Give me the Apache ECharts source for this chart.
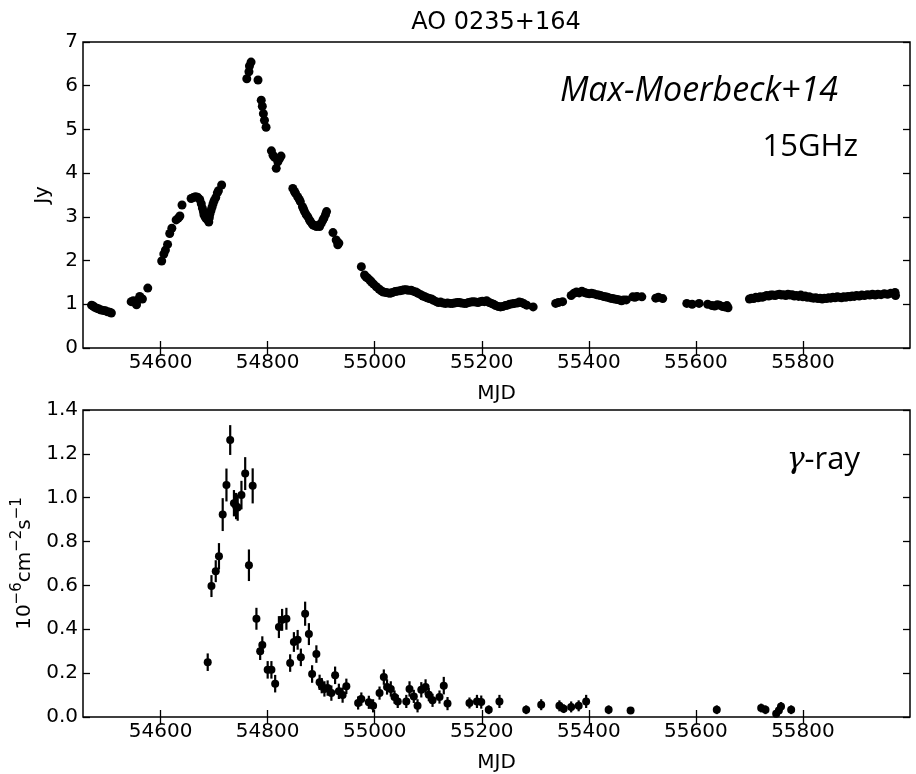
<!DOCTYPE html>
<html>
<head>
<meta charset="utf-8">
<script src="https://cdn.jsdelivr.net/npm/echarts@6/dist/echarts.min.js"></script>
<style>
html,body{margin:0;padding:0;background:#fff;}
#chart{width:916px;height:774px;}
</style>
</head>
<body>
<div id="chart"></div>
<script>
// ---------- data ----------
const titleText = 'AO 0235+164';
const xTickValues = [54600, 54800, 55000, 55200, 55400, 55600, 55800];
const radioTicks = [0, 1, 2, 3, 4, 5, 6, 7];
const gammaTicks = [0.0, 0.2, 0.4, 0.6, 0.8, 1.0, 1.2, 1.4];

// 15 GHz radio light curve (MJD, Jy)
const radioMJD = [
  54471,54474,54477,54481,54485,54489,54493,54497,54501,54505,54508,
  54545,54549,54552,54555,54558,54561,54564,54566,54576,
  54602,54606,54609,54613,54617,54621,54629,54633,54636,54640,
  54657,54661,54665,54669,54673,54676,54678,54680,54681,54683,54685,54687,54688,54690,54691,54692,54694,54696,54698,54700,54703,54706,54708,54714,
  54761,54765,54766,54769,54782,54788,54790,54792,54794,54797,54807,54810,54813,54816,54819,54822,54825,
  54847,54850,54852,54856,54859,54861,54865,54867,54869,54872,54875,54878,54880,54883,54885,54888,54891,54894,54897,54900,54903,54905,54908,54910,54922,54928,54931,54933,
  54975,54981,54984,54987,54991,54994,54998,55003,55008,55012,55016,55021,55025,55029,55033,55038,55042,55047,55051,55055,55059,55063,55068,55072,55077,55081,55086,55090,55094,55098,55102,55106,55110,55115,55119,55123,55128,55132,55136,55141,55145,55149,55154,55158,55162,55167,55171,55175,55180,55184,55188,55193,55197,55201,55205,55209,55214,55218,55222,55226,55231,55235,55239,55244,55248,55252,55257,55261,55266,55270,55274,55279,55284,55296,
  55338,55343,55351,55367,55372,55377,55382,55387,55392,55396,55401,55405,55409,55414,55418,55422,55427,55431,55435,55440,55444,55448,55453,55457,55461,55465,55470,55482,55486,55490,55499,55525,55530,55538,
  55583,55593,55606,55622,55630,55635,55640,55644,55650,55654,55658,55660,
  55700,55704,55708,55712,55716,55720,55724,55728,55732,55736,55740,55744,55748,55752,55756,55760,55764,55768,55772,55776,55780,55784,55788,55792,55796,55800,55804,55808,55812,55816,55820,55824,55828,55832,55836,55840,55844,55848,55852,55856,55860,55864,55868,55872,55876,55880,55884,55888,55892,55896,55900,55905,55910,55915,55920,55925,55930,55935,55940,55946,55952,55958,55964,55972,55973
];
const radioJy = [
  0.98,0.96,0.93,0.91,0.89,0.87,0.86,0.85,0.83,0.82,0.80,
  1.06,1.08,1.04,0.99,1.10,1.18,1.13,1.12,1.37,
  1.99,2.15,2.24,2.37,2.62,2.74,2.93,2.97,3.02,3.27,
  3.42,3.44,3.46,3.45,3.40,3.30,3.20,3.12,3.05,3.00,2.96,3.08,2.93,2.88,2.98,3.06,3.14,3.22,3.30,3.37,3.44,3.55,3.60,3.73,
  6.16,6.32,6.45,6.54,6.13,5.67,5.53,5.36,5.21,5.05,4.51,4.41,4.36,4.11,4.26,4.33,4.39,
  3.65,3.58,3.54,3.46,3.40,3.35,3.23,3.18,3.12,3.05,3.00,2.93,2.89,2.84,2.81,2.80,2.78,2.80,2.78,2.85,2.92,2.97,3.05,3.12,2.64,2.47,2.36,2.40,
  1.86,1.67,1.62,1.60,1.55,1.51,1.46,1.40,1.35,1.31,1.28,1.27,1.26,1.25,1.27,1.29,1.30,1.31,1.32,1.33,1.33,1.32,1.32,1.30,1.28,1.25,1.22,1.19,1.17,1.15,1.13,1.12,1.09,1.06,1.04,1.05,1.03,1.02,1.03,1.02,1.02,1.03,1.04,1.04,1.03,1.02,1.02,1.04,1.05,1.06,1.05,1.04,1.06,1.07,1.06,1.08,1.04,1.02,1.00,0.97,0.95,0.94,0.95,0.97,0.98,1.00,1.01,1.02,1.03,1.05,1.04,1.01,0.98,0.94,
  1.02,1.04,1.06,1.20,1.25,1.28,1.26,1.30,1.27,1.25,1.24,1.25,1.24,1.22,1.21,1.20,1.18,1.17,1.16,1.14,1.13,1.12,1.11,1.10,1.08,1.10,1.10,1.17,1.16,1.18,1.17,1.14,1.16,1.13,
  1.02,1.00,1.02,1.00,0.97,0.96,0.99,0.98,0.95,0.94,0.97,0.92,
  1.12,1.14,1.13,1.16,1.15,1.17,1.16,1.18,1.20,1.19,1.21,1.21,1.20,1.22,1.23,1.21,1.22,1.20,1.23,1.21,1.22,1.19,1.20,1.18,1.21,1.17,1.19,1.16,1.17,1.15,1.14,1.15,1.13,1.14,1.12,1.14,1.13,1.15,1.14,1.16,1.15,1.17,1.16,1.15,1.17,1.16,1.18,1.17,1.19,1.18,1.20,1.19,1.21,1.20,1.22,1.21,1.23,1.21,1.23,1.22,1.24,1.23,1.25,1.27,1.20
];

// gamma-ray light curve (MJD, 1e-6 cm^-2 s^-1, error)
const gammaMJD = [
  54688,54695,54703,54709,54716,54723,54730,54737,54741,54744,54751,54758,54765,54772,54779,54786,54790,54800,54807,54814,
  54821,54827,54835,54842,54849,54856,54862,54870,54877,54883,54891,54897,54901,54906,54912,54919,54926,54933,54940,54947,
  54969,54975,54989,54997,55009,55017,55023,55030,55037,55043,55059,55065,55073,55080,55087,55095,55101,55108,55121,55129,55136,
  55177,55191,55199,55213,55233,55283,55311,55345,55353,55367,55381,55395,55437,55478,55639,55722,55730,55750,55755,55759,55778
];
const gammaFlux = [
  0.25,0.597,0.665,0.733,0.923,1.058,1.263,0.975,0.962,0.955,1.012,1.11,0.692,1.054,0.448,0.30,0.328,0.215,0.215,0.152,
  0.41,0.443,0.448,0.246,0.342,0.352,0.272,0.471,0.378,0.196,0.287,0.158,0.143,0.128,0.132,0.109,0.19,0.117,0.10,0.14,
  0.064,0.082,0.067,0.051,0.109,0.182,0.137,0.128,0.091,0.071,0.071,0.128,0.094,0.051,0.124,0.137,0.102,0.076,0.091,0.143,0.061,
  0.064,0.071,0.068,0.033,0.071,0.033,0.056,0.051,0.038,0.046,0.051,0.071,0.033,0.03,0.033,0.041,0.033,0.015,0.03,0.048,0.033
];
const gammaErr = [
  0.04,0.05,0.05,0.06,0.075,0.075,0.068,0.06,0.06,0.06,0.065,0.075,0.072,0.08,0.05,0.04,0.04,0.04,0.04,0.04,
  0.05,0.05,0.05,0.04,0.045,0.045,0.04,0.055,0.05,0.04,0.04,0.035,0.035,0.035,0.035,0.035,0.04,0.035,0.035,0.035,
  0.03,0.03,0.03,0.03,0.03,0.035,0.035,0.035,0.03,0.03,0.03,0.035,0.03,0.03,0.035,0.035,0.03,0.03,0.03,0.04,0.03,
  0.025,0.03,0.03,0.02,0.03,0.02,0.025,0.025,0.02,0.025,0.025,0.03,0.02,0.015,0.02,0.02,0.02,0.015,0.02,0.02,0.02
];

// ---------- chart ----------
const chart = echarts.init(document.getElementById('chart'), null, {renderer: 'canvas'});
const TICK_FONT = 'DejaVu Sans';
const tickStyle = {color: '#000', fontFamily: TICK_FONT, fontSize: 20};
const tickLine = {show: true, inside: true, length: 7, lineStyle: {color: '#000', width: 1.3}};
const XMIN = 54455, XMAX = 56000;

function xAxisPair(gi) {
  return [
    {
      type: 'value', gridIndex: gi, min: XMIN, max: XMAX, position: 'bottom',
      axisLine: {show: false}, splitLine: {show: false},
      axisTick: Object.assign({customValues: xTickValues}, tickLine),
      axisLabel: Object.assign({customValues: xTickValues, margin: 5, formatter: v => String(v)}, tickStyle),
      name: 'MJD', nameLocation: 'middle', nameGap: 36,
      nameTextStyle: {color: '#000', fontFamily: TICK_FONT, fontSize: 20}
    },
    {
      type: 'value', gridIndex: gi, min: XMIN, max: XMAX, position: 'top',
      axisLine: {show: false}, splitLine: {show: false},
      axisTick: Object.assign({customValues: xTickValues}, tickLine),
      axisLabel: {show: false}
    }
  ];
}

const radioData = radioMJD.map((m, i) => [m, radioJy[i]]);
const gammaData = gammaMJD.map((m, i) => [m, gammaFlux[i], gammaErr[i]]);

const option = {
  backgroundColor: '#fff',
  animation: false,
  grid: [
    {left: 83, right: 6, top: 42, height: 306, show: true, borderColor: '#000', borderWidth: 1.5, backgroundColor: 'transparent'},
    {left: 83, right: 6, top: 410, height: 307, show: true, borderColor: '#000', borderWidth: 1.5, backgroundColor: 'transparent'}
  ],
  xAxis: [].concat(xAxisPair(0), xAxisPair(1)),
  yAxis: [
    {
      type: 'value', gridIndex: 0, min: 0, max: 7, interval: 1, position: 'left',
      axisLine: {show: false}, splitLine: {show: false}, axisTick: tickLine,
      axisLabel: Object.assign({margin: 5}, tickStyle),
      name: 'Jy', nameLocation: 'middle', nameGap: 30, nameRotate: 90,
      nameTextStyle: {color: '#000', fontFamily: TICK_FONT, fontSize: 20}
    },
    {
      type: 'value', gridIndex: 0, min: 0, max: 7, interval: 1, position: 'right',
      axisLine: {show: false}, splitLine: {show: false}, axisTick: tickLine, axisLabel: {show: false}
    },
    {
      type: 'value', gridIndex: 1, min: 0, max: 1.4, interval: 0.2, position: 'left',
      axisLine: {show: false}, splitLine: {show: false}, axisTick: tickLine,
      axisLabel: Object.assign({margin: 5, formatter: v => v.toFixed(1)}, tickStyle),
      name: '{n|10}{s|−6}{n|cm}{s|−2}{n|s}{s|−1}', nameLocation: 'middle', nameGap: 48, nameRotate: 90,
      nameTextStyle: {
        color: '#000', fontFamily: TICK_FONT, fontSize: 20,
        rich: {
          n: {fontFamily: TICK_FONT, fontSize: 20, color: '#000', lineHeight: 25, verticalAlign: 'bottom'},
          s: {fontFamily: TICK_FONT, fontSize: 15, color: '#000', lineHeight: 25, verticalAlign: 'top'}
        }
      }
    },
    {
      type: 'value', gridIndex: 1, min: 0, max: 1.4, interval: 0.2, position: 'right',
      axisLine: {show: false}, splitLine: {show: false}, axisTick: tickLine, axisLabel: {show: false}
    }
  ],
  series: [
    {
      type: 'scatter', xAxisIndex: 0, yAxisIndex: 0, data: radioData,
      symbol: 'circle', symbolSize: 9, itemStyle: {color: '#000', opacity: 1}, silent: true
    },
    {
      type: 'custom', xAxisIndex: 2, yAxisIndex: 2, data: gammaData,
      encode: {x: 0, y: [1, 2]}, silent: true,
      renderItem: function (params, api) {
        const x = api.value(0), y = api.value(1), e = api.value(2);
        const p1 = api.coord([x, y - e]);
        const p2 = api.coord([x, y + e]);
        return {
          type: 'line',
          shape: {x1: p1[0], y1: p1[1], x2: p2[0], y2: p2[1]},
          style: {stroke: '#000', lineWidth: 2.2}
        };
      }
    },
    {
      type: 'scatter', xAxisIndex: 2, yAxisIndex: 2, data: gammaData.map(d => [d[0], d[1]]),
      symbol: 'circle', symbolSize: 8, itemStyle: {color: '#000', opacity: 1}, silent: true, z: 3
    }
  ],
  graphic: [
    {type: 'text', x: 496, y: 23, style: {text: titleText, fill: '#000', font: '24px "DejaVu Sans"', align: 'center', verticalAlign: 'middle'}},
    {type: 'text', x: 838, y: 91, style: {text: 'Max-Moerbeck+14', fill: '#000', font: 'italic 34px "Open Sans"', align: 'right', verticalAlign: 'middle'}},
    {type: 'text', x: 858, y: 147, style: {text: '15GHz', fill: '#000', font: '31px "Open Sans"', align: 'right', verticalAlign: 'middle'}},
    {type: 'text', x: 860, y: 460, style: {
      text: '{g|γ}{r|-ray}', align: 'right', verticalAlign: 'middle',
      rich: {
        g: {fontFamily: 'DejaVu Serif', fontStyle: 'italic', fontSize: 30, fill: '#000'},
        r: {fontFamily: 'Open Sans', fontSize: 31, fill: '#000'}
      }
    }}
  ]
};
chart.setOption(option);
</script>
</body>
</html>
